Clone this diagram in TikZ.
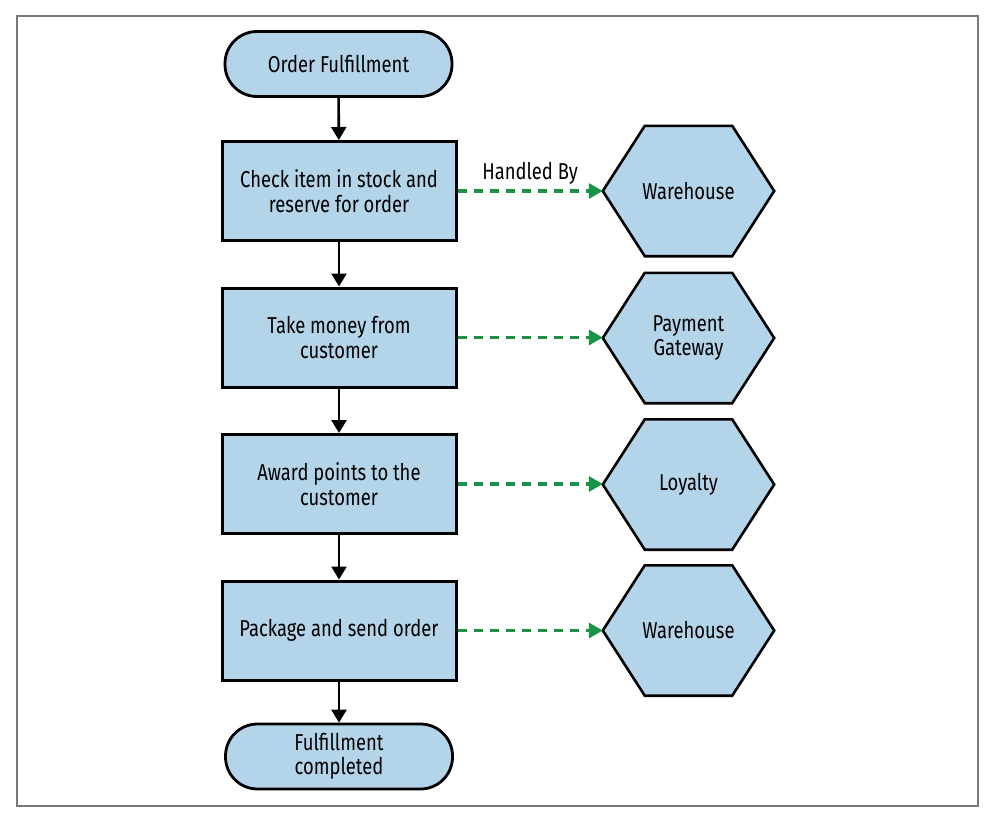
\documentclass[tikz,border=0pt]{standalone}
\usepackage{fontspec}
\setmainfont{Fira Sans}[FakeStretch=0.80]
\usetikzlibrary{arrows.meta,positioning}
\pgfdeclarelayer{background}
\pgfsetlayers{background,main}
\definecolor{boxfill}{RGB}{180,212,234}
\definecolor{dashgreen}{RGB}{25,148,70}
\definecolor{framegray}{RGB}{120,120,120}
\tikzset{
  txt/.style={font=\fontsize{23}{24.5}\selectfont, align=center, text=black},
  terminal/.style={txt, draw=black, line width=2.8pt, fill=boxfill, rounded corners=32pt, minimum width=227pt, minimum height=65pt, inner sep=0pt},
  procbox/.style={txt, draw=black, line width=3pt, fill=boxfill, minimum width=234pt, minimum height=99pt, inner sep=0pt},
  hexnode/.style={txt, minimum width=171pt, minimum height=130pt, inner sep=0pt},
  hexshape/.style={draw=black, line width=2.6pt, fill=boxfill, line join=miter},
  flow/.style={draw=black, line width=2.6pt, -{Triangle[length=13pt,width=15pt]}},
  handled/.style={draw=dashgreen, line width=3.2pt, dash pattern=on 9pt off 7pt, -{Triangle[length=14pt,width=15pt]}},
}
\newcommand{\hexbg}[1]{%
  \begin{pgfonlayer}{background}
  \path[hexshape] (#1.west) -- ([xshift=42pt]#1.north west) -- ([xshift=-42pt]#1.north east) -- (#1.east) -- ([xshift=-42pt]#1.south east) -- ([xshift=42pt]#1.south west) -- cycle;
  \end{pgfonlayer}}
\begin{document}
\begin{tikzpicture}[x=1pt,y=-1pt]
\useasboundingbox (0,0) rectangle (989,814);
\draw[framegray, line width=2pt] (17,16) rectangle (978,806);

\node[terminal] (start) at (338.5,64) {Order Fulfillment};
\node[procbox] (b1) at (339,191) {Check item in stock and\\reserve for order};
\node[procbox] (b2) at (339,337.5) {Take money from\\customer};
\node[procbox] (b3) at (339,484) {Award points to the\\customer};
\node[procbox] (b4) at (339,630.5) {Package and send order};
\node[terminal] (end) at (339,756.5) {Fulfillment\\completed};

\node[hexnode] (h1) at (688.5,191) {Warehouse};
\node[hexnode] (h2) at (688.5,338) {Payment\\Gateway};
\node[hexnode] (h3) at (688.5,484.5) {Loyalty};
\node[hexnode] (h4) at (688.5,630.5) {Warehouse};
\hexbg{h1}\hexbg{h2}\hexbg{h3}\hexbg{h4}

\draw[flow] (start) -- (b1);
\draw[flow] (b1) -- (b2);
\draw[flow] (b2) -- (b3);
\draw[flow] (b3) -- (b4);
\draw[flow] (b4) -- (end);

\draw[handled] (b1.east) -- node[txt, above=2pt] {Handled By} (h1.west);
\draw[handled] (b2.east) -- (b2.east -| h2.west);
\draw[handled] (b3.east) -- (b3.east -| h3.west);
\draw[handled] (b4.east) -- (h4.west);
\end{tikzpicture}
\end{document}
